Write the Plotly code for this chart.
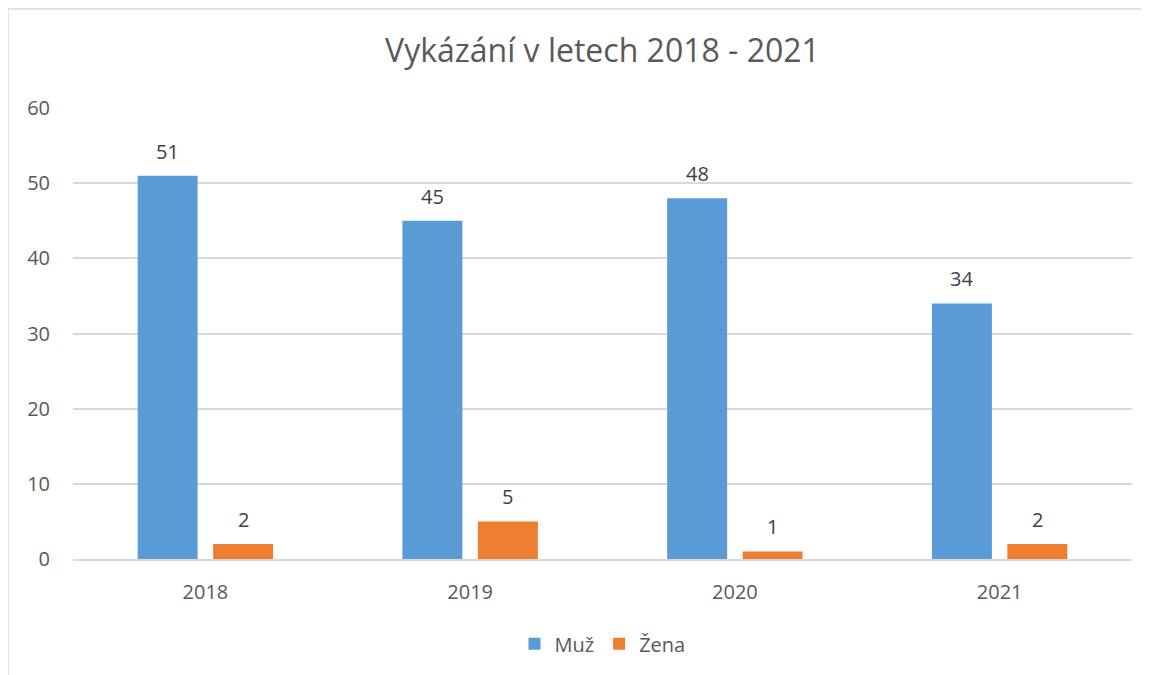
import plotly.graph_objects as go

years = ["2018", "2019", "2020", "2021"]
muz = [51, 45, 48, 34]
zena = [2, 5, 1, 2]
series_names = ["Muž", "Žena"]
colors = ["#5B9BD5", "#ED7D31"]
title_text = "Vykázání v letech 2018 - 2021"
y_ticks = [0, 10, 20, 30, 40, 50, 60]

FONT = "Open Sans, Liberation Sans, sans-serif"
TXT = "#595959"
LBL = "#404040"

# page body adds an 8px offset; figure sized to compensate
W, H = 1141, 667
ML, MR, MT, MB = 65, 17, 100, 116
PW = W - ML - MR
PH = H - MT - MB

fig = go.Figure()
for name, vals, col in zip(series_names, [muz, zena], colors):
    fig.add_trace(go.Bar(
        x=years, y=vals, name=name, marker_color=col,
        marker_line_width=0,
    ))

annotations = []
for shift, vals in zip([-37.75, 37.75], [muz, zena]):
    for i, v in enumerate(vals):
        annotations.append(dict(
            x=i, y=v, xref="x", yref="y", text=str(v), showarrow=False,
            xshift=shift, yshift=9, yanchor="bottom", xanchor="center",
            font=dict(family=FONT, size=20, color=LBL)))

fig.update_layout(
    width=W, height=H,
    margin=dict(l=ML, r=MR, t=MT, b=MB),
    paper_bgcolor="white", plot_bgcolor="white",
    title=dict(text=title_text, x=(ML + PW / 2) / W, xanchor="center", y=1 - 43 / H, yanchor="middle",
               font=dict(family=FONT, size=32, color=TXT)),
    barmode="group", bargap=0.43, bargroupgap=0.205,
    legend=dict(orientation="h", x=0.5, xanchor="center", y=-0.188, yanchor="middle",
                font=dict(family=FONT, size=20, color=TXT),
                traceorder="normal"),
    xaxis=dict(type="category", showgrid=False, showline=True, linecolor="#d9d9d9", linewidth=1.5,
               tickfont=dict(family=FONT, size=20, color=TXT), ticks="",
               ticklabelstandoff=14),
    yaxis=dict(range=[0, 60], tickvals=y_ticks, showgrid=True, gridcolor="#d9d9d9",
               gridwidth=1.5, zeroline=False, showline=False,
               tickfont=dict(family=FONT, size=20, color=TXT), ticks="",
               ticklabelstandoff=22),
    annotations=annotations,
    shapes=[dict(type="rect", xref="paper", yref="paper",
                 x0=(0 - ML) / PW, x1=(W + 30 - ML) / PW,
                 y0=-(MB + 30) / PH, y1=1 + (MT - 1) / PH,
                 line=dict(color="#d9d9d9", width=1.5), fillcolor="rgba(0,0,0,0)", layer="below")],
)
fig.write_html("out.html")
